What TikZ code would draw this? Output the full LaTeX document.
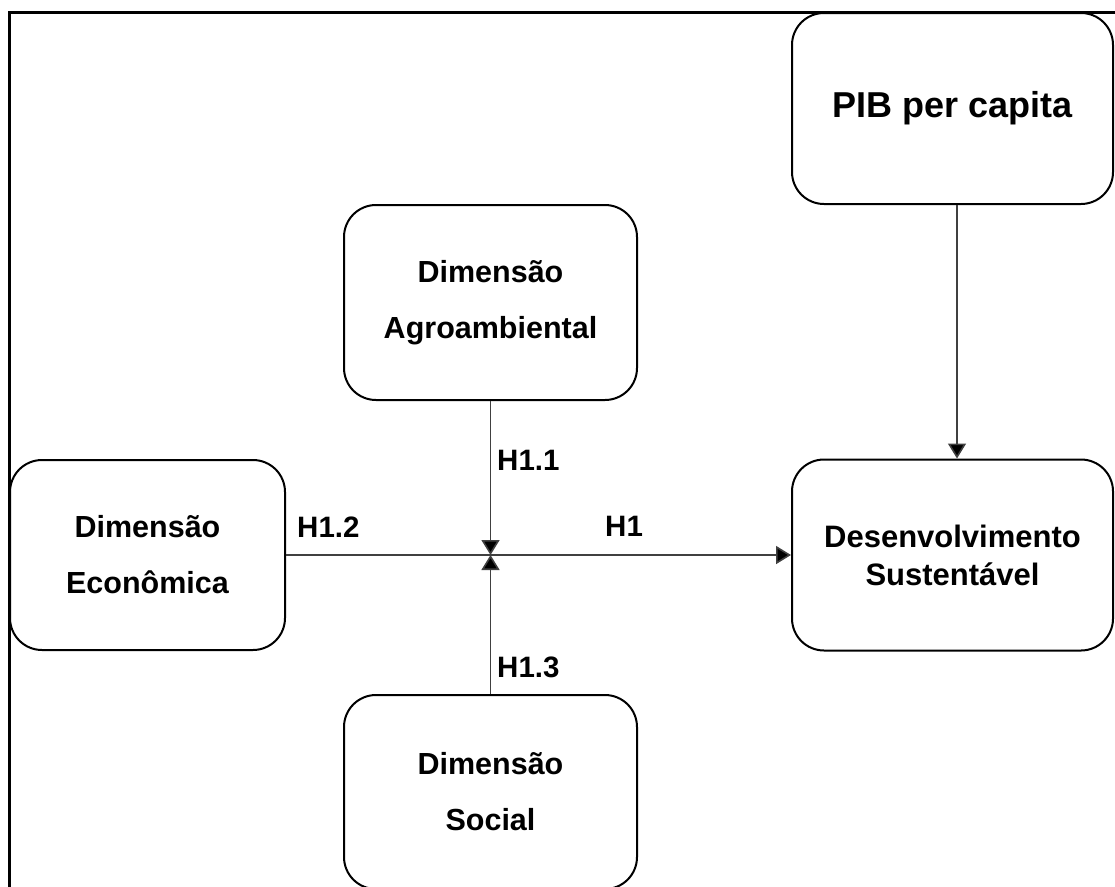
\documentclass[tikz,border=0pt]{standalone}
\usepackage{fontspec}
\setmainfont{Liberation Sans}
\usetikzlibrary{arrows.meta}
\begin{document}
\begin{tikzpicture}[x=1pt,y=-1pt,
  box/.style={draw, line width=2pt, rounded corners=32pt, align=center, inner sep=0pt,
    font=\bfseries\fontsize{30.5}{56}\selectfont},
  conn/.style={line width=1.6pt, draw=black!75, -{Triangle[length=15pt,width=18pt,fill=black]}},
  lab/.style={inner sep=0pt, anchor=west, font=\bfseries\fontsize{29.5}{34}\selectfont}]
\useasboundingbox (0,0) rectangle (1115,886);
\clip (0,0) rectangle (1115,886);
\draw[line width=3pt] (9,12) rectangle (1150,920);
% boxes
\node[box, minimum width=321pt, minimum height=191pt, font=\bfseries\fontsize{36}{40}\selectfont] (pib) at (952.5,108.5) {PIB per capita};
\node[box, minimum width=293pt, minimum height=195pt] (agro) at (490.5,302.5) {Dimensão\\Agroambiental};
\node[box, minimum width=275pt, minimum height=190pt] (eco) at (147.5,555) {Dimensão\\Econômica};
\node[box, minimum width=321pt, minimum height=191pt, font=\bfseries\fontsize{31}{38}\selectfont] (des) at (952.5,555) {Desenvolvimento\\Sustentável};
\node[box, minimum width=293pt, minimum height=194pt] (soc) at (490.5,792) {Dimensão\\Social};
% junction
\coordinate (j) at (490.5,555);
% connectors
\draw[conn] (agro.south) -- (j);
\draw[conn] (soc.north) -- (j);
\draw[conn] (eco.east) -- (des.west);
\draw[conn] ([xshift=4.5pt]pib.south) -- ([xshift=4.5pt]des.north);
% labels
\node[lab] (h11) at (497,460) {H1.1};
\node[lab] (h12) at (297,527) {H1.2};
\node[lab] (h1) at (605,526) {H1};
\node[lab] (h13) at (497,667) {H1.3};
\end{tikzpicture}
\end{document}
